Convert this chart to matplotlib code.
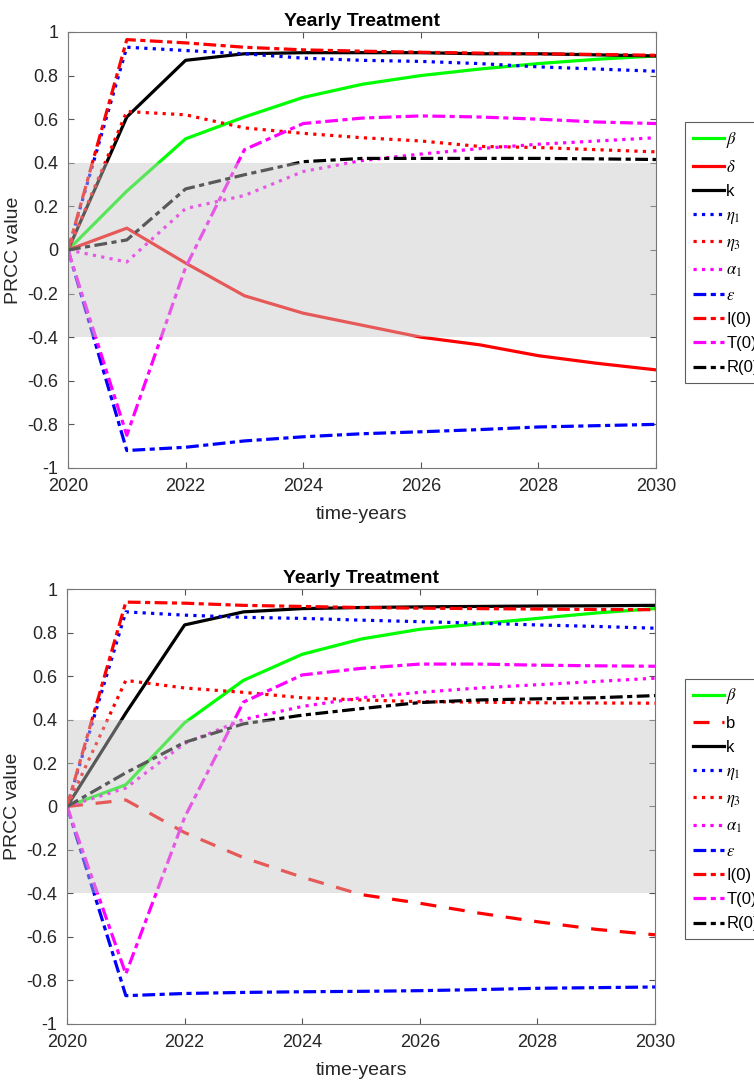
import numpy as np
import matplotlib.pyplot as plt

plt.rcParams['font.family'] = ['Liberation Sans', 'DejaVu Sans']
plt.rcParams['mathtext.fontset'] = 'stix'

years = [2020, 2021, 2022, 2023, 2024, 2025, 2026, 2027, 2028, 2029, 2030]

# top panel
beta_1 = [0, 0.27, 0.51, 0.61, 0.70, 0.76, 0.80, 0.83, 0.855, 0.875, 0.89]
delta_1 = [0, 0.10, -0.06, -0.21, -0.29, -0.345, -0.40, -0.435, -0.485, -0.52, -0.55]
k_1 = [0, 0.61, 0.87, 0.90, 0.905, 0.905, 0.905, 0.90, 0.90, 0.895, 0.89]
eta1_1 = [0, 0.93, 0.915, 0.90, 0.88, 0.87, 0.865, 0.855, 0.84, 0.83, 0.82]
eta3_1 = [0, 0.635, 0.62, 0.56, 0.535, 0.515, 0.50, 0.475, 0.47, 0.46, 0.45]
alpha1_1 = [0, -0.055, 0.19, 0.25, 0.36, 0.41, 0.44, 0.465, 0.485, 0.50, 0.515]
eps_1 = [0, -0.92, -0.905, -0.876, -0.857, -0.843, -0.834, -0.824, -0.812, -0.806, -0.80]
I0_1 = [0, 0.965, 0.95, 0.93, 0.918, 0.912, 0.907, 0.903, 0.90, 0.897, 0.893]
T0_1 = [0, -0.85, -0.08, 0.46, 0.58, 0.605, 0.615, 0.61, 0.60, 0.587, 0.58]
R0_1 = [0, 0.046, 0.28, 0.345, 0.405, 0.42, 0.42, 0.42, 0.42, 0.418, 0.415]

# bottom panel
beta_2 = [0, 0.10, 0.385, 0.58, 0.70, 0.77, 0.815, 0.84, 0.865, 0.89, 0.91]
b_2 = [0, 0.03, -0.12, -0.235, -0.325, -0.405, -0.445, -0.49, -0.53, -0.565, -0.59]
k_2 = [0, 0.43, 0.835, 0.895, 0.91, 0.915, 0.918, 0.92, 0.922, 0.923, 0.925]
eta1_2 = [0, 0.895, 0.88, 0.87, 0.865, 0.857, 0.85, 0.843, 0.835, 0.828, 0.82]
eta3_2 = [0, 0.58, 0.545, 0.525, 0.50, 0.49, 0.482, 0.48, 0.477, 0.476, 0.475]
alpha1_2 = [0, 0.085, 0.29, 0.40, 0.46, 0.50, 0.525, 0.545, 0.56, 0.575, 0.59]
eps_2 = [0, -0.87, -0.86, -0.855, -0.852, -0.85, -0.847, -0.842, -0.836, -0.833, -0.83]
I0_2 = [0, 0.94, 0.935, 0.925, 0.92, 0.915, 0.912, 0.91, 0.908, 0.906, 0.905]
T0_2 = [0, -0.77, -0.05, 0.48, 0.605, 0.635, 0.655, 0.655, 0.65, 0.647, 0.645]
R0_2 = [0, 0.155, 0.295, 0.38, 0.42, 0.45, 0.478, 0.49, 0.495, 0.50, 0.51]

ytick_vals = [-1, -0.8, -0.6, -0.4, -0.2, 0, 0.2, 0.4, 0.6, 0.8, 1]
ytick_labels = ['-1', '-0.8', '-0.6', '-0.4', '-0.2', '0', '0.2', '0.4', '0.6', '0.8', '1']

dashdot = (0, (4, 1.4, 1.6, 1.4))
lw = 2.3

fig = plt.figure(figsize=(7.54, 10.84), dpi=100)
ax1 = fig.add_axes([0.0902, 0.5683, 0.7798, 0.4022])
ax2 = fig.add_axes([0.0889, 0.0554, 0.7798, 0.4012])


def draw_panel(ax, series, leg_y):
    for vals, color, ls, label in series:
        ax.plot(years, vals, color=color, linestyle=ls, linewidth=lw, label=label)
    # shaded band on top of the lines, like the MATLAB fill
    ax.axhspan(-0.4, 0.4, color=(0.78, 0.78, 0.78), alpha=0.45, lw=0, zorder=3)
    ax.set_xlim(2020, 2030)
    ax.set_ylim(-1, 1)
    ax.set_xticks([2020, 2022, 2024, 2026, 2028, 2030])
    ax.set_yticks(ytick_vals)
    ax.set_yticklabels(ytick_labels)
    ax.tick_params(direction='in', length=4, top=True, right=True, pad=7,
                   labelsize=13, colors='#555555', labelcolor='#262626')
    for sp in ax.spines.values():
        sp.set_color('#777777')
        sp.set_zorder(4)
    ax.set_title('Yearly Treatment', fontsize=14, fontweight='bold', pad=4)
    ax.set_xlabel('time-years', fontsize=14, color='#262626', labelpad=8)
    ax.set_ylabel('PRCC value', fontsize=14, color='#262626', labelpad=4)
    leg = ax.legend(loc='upper left', bbox_to_anchor=(685 / 754, leg_y),
                    bbox_transform=fig.transFigure, fontsize=12, frameon=True,
                    fancybox=False, edgecolor='#333333', handlelength=1.9,
                    handletextpad=0.12, labelspacing=0.55, borderpad=0.45,
                    borderaxespad=0)
    leg.get_frame().set_linewidth(0.8)


draw_panel(ax1, [
    (beta_1, '#00ff00', '-', r'$\beta$'),
    (delta_1, '#ff0000', '-', r'$\delta$'),
    (k_1, 'black', '-', 'k'),
    (eta1_1, '#0000ff', ':', r'$\eta_1$'),
    (eta3_1, '#ff0000', ':', r'$\eta_3$'),
    (alpha1_1, '#ff00ff', ':', r'$\alpha_1$'),
    (eps_1, '#0000ff', dashdot, r'$\epsilon$'),
    (I0_1, '#ff0000', dashdot, 'I(0)'),
    (T0_1, '#ff00ff', dashdot, 'T(0)'),
    (R0_1, 'black', dashdot, 'R(0)'),
], 1 - 122 / 1084)

draw_panel(ax2, [
    (beta_2, '#00ff00', '-', r'$\beta$'),
    (b_2, '#ff0000', (0, (5, 4)), 'b'),
    (k_2, 'black', '-', 'k'),
    (eta1_2, '#0000ff', ':', r'$\eta_1$'),
    (eta3_2, '#ff0000', ':', r'$\eta_3$'),
    (alpha1_2, '#ff00ff', ':', r'$\alpha_1$'),
    (eps_2, '#0000ff', dashdot, r'$\epsilon$'),
    (I0_2, '#ff0000', dashdot, 'I(0)'),
    (T0_2, '#ff00ff', dashdot, 'T(0)'),
    (R0_2, 'black', dashdot, 'R(0)'),
], 1 - 679 / 1084)

fig.savefig('out.png', dpi=100)
